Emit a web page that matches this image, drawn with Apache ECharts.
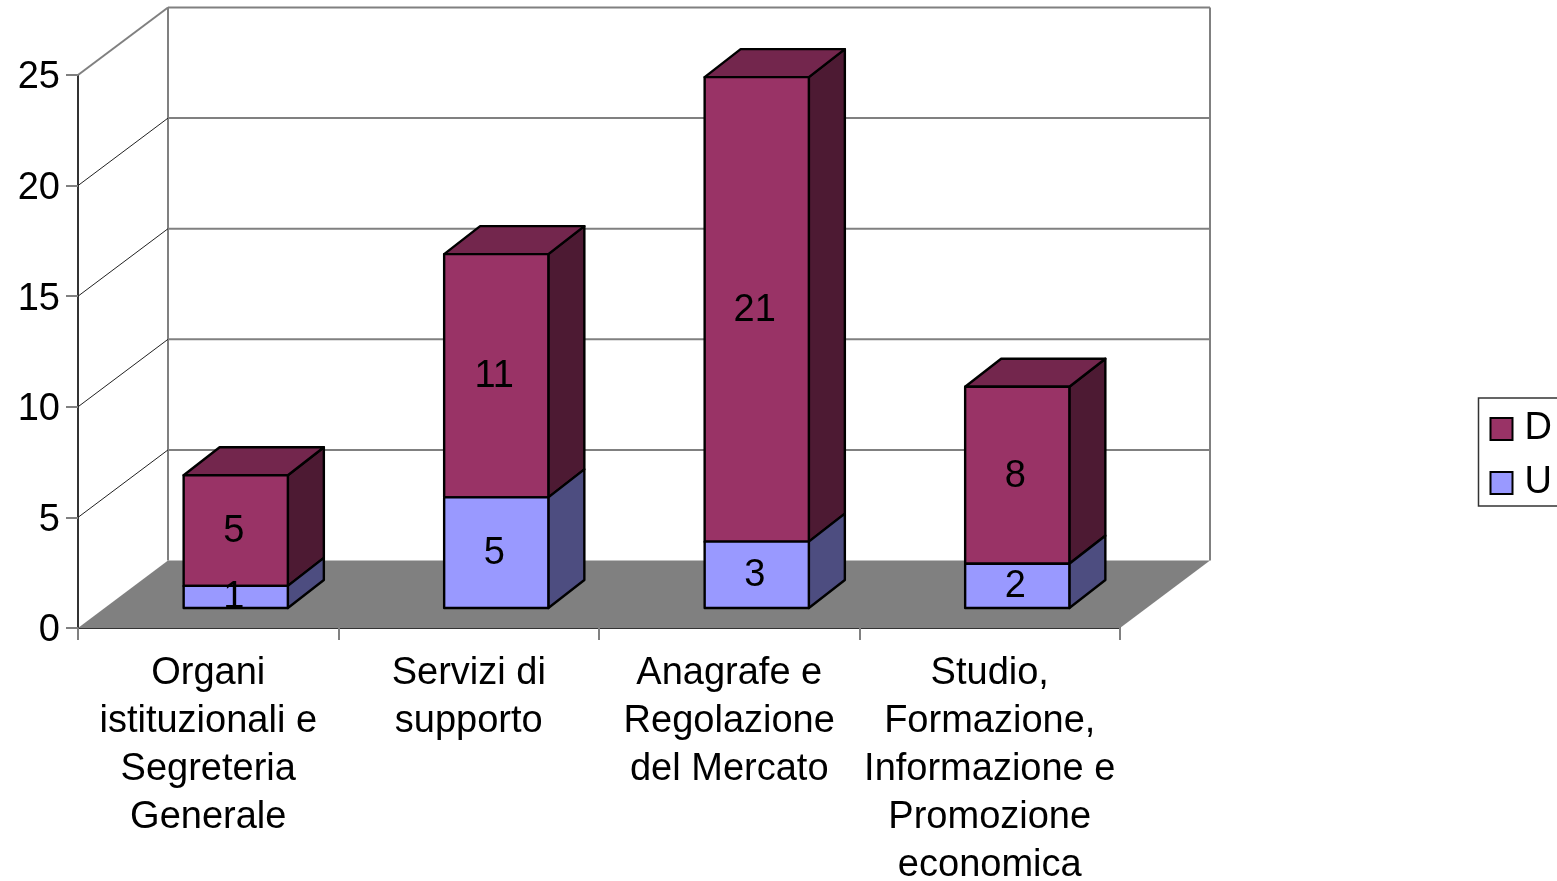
<!DOCTYPE html>
<html>
<head>
<meta charset="utf-8">
<style>html,body{margin:0;padding:0;background:#fff}#c{width:1557px;height:881px}</style>
<script src="https://cdn.jsdelivr.net/npm/echarts@6/dist/echarts.min.js"></script>
</head>
<body>
<div id="c"></div>
<script>
const categories = [
  'Organi\nistituzionali e\nSegreteria\nGenerale',
  'Servizi di\nsupporto',
  'Anagrafe e\nRegolazione\ndel Mercato',
  'Studio,\nFormazione,\nInformazione e\nPromozione\neconomica'
];
const valuesU = [1, 5, 3, 2];
const valuesD = [5, 11, 21, 8];
const yTicks = [0, 5, 10, 15, 20, 25];

const FONT = '"Liberation Sans", Arial, sans-serif';
const WALL = { dx: 90, dy: -67.5 };
const BAR = { dx: 27.5, dy: -20, depthX: 36, depthY: -28, ratio: 0.4 };

function wallItem(params, api) {
  const cs = params.coordSys;
  const tick = api.value(1);
  const left = cs.x, right = cs.x + cs.width;
  const y = api.coord([0, tick])[1];
  const by = y + WALL.dy;
  const bl = left + WALL.dx, br = right + WALL.dx;
  const gray = { stroke: '#808080', lineWidth: 2, fill: null };
  const children = [];
  if (tick === 0) {
    children.push({ type: 'polygon', shape: { points: [[left, y], [bl, by], [br, by], [right, y]] }, style: { fill: '#808080' } });
    children.push({ type: 'line', shape: { x1: bl, y1: by, x2: bl, y2: cs.y + WALL.dy }, style: gray });
    children.push({ type: 'line', shape: { x1: br, y1: by, x2: br, y2: cs.y + WALL.dy }, style: gray });
  } else {
    children.push({ type: 'line', shape: { x1: bl, y1: by, x2: br, y2: by }, style: gray });
    children.push({ type: 'line', shape: { x1: left, y1: y, x2: bl, y2: by },
      style: tick === yTicks[yTicks.length - 1] ? gray : { stroke: '#222', lineWidth: 1, fill: null } });
  }
  return { type: 'group', children };
}

function barItem(colors, cap) {
  return function (params, api) {
    const i = api.value(0);
    const band = api.size([1, 0])[0];
    const w = band * BAR.ratio;
    const c = api.coord([i, api.value(1)]);
    const t = api.coord([i, api.value(2)]);
    const x0 = c[0] + BAR.dx - w / 2, x1 = x0 + w;
    const yb = c[1] + BAR.dy, yt = t[1] + BAR.dy;
    const dx = BAR.depthX, dy = BAR.depthY;
    const edge = { stroke: '#000', lineWidth: 2.4, lineJoin: 'round' };
    const children = [
      { type: 'polygon', shape: { points: [[x1, yb], [x1 + dx, yb + dy], [x1 + dx, yt + dy], [x1, yt]] },
        style: Object.assign({ fill: colors.side }, edge) }
    ];
    if (cap) {
      children.push({ type: 'polygon', shape: { points: [[x0, yt], [x0 + dx, yt + dy], [x1 + dx, yt + dy], [x1, yt]] },
        style: Object.assign({ fill: colors.top }, edge) });
    }
    children.push({ type: 'rect', shape: { x: x0, y: yt, width: w, height: yb - yt },
      style: Object.assign({ fill: colors.face }, edge) });
    children.push({ type: 'text', z2: 10, style: {
      text: String(api.value(2) - api.value(1)),
      x: x0 + w / 2 - 2, y: (yb + yt) / 2 + 1,
      align: 'center', verticalAlign: 'middle',
      font: '38px ' + FONT, fill: '#000' } });
    return { type: 'group', children };
  };
}

const dataU = valuesU.map((v, i) => [i, 0, v]);
const dataD = valuesD.map((v, i) => [i, valuesU[i], valuesU[i] + v]);

const chart = echarts.init(document.getElementById('c'), null, { renderer: 'canvas' });
chart.setOption({
  animation: false,
  backgroundColor: '#fff',
  textStyle: { fontFamily: FONT },
  grid: { left: 78, top: 75, width: 1042, height: 553, outerBoundsMode: 'none', containLabel: false },
  legend: {
    orient: 'vertical', left: 1478.5, top: 398,
    data: ['D', 'U'],
    icon: 'rect',
    padding: [9, 60, 1, 11],
    itemWidth: 22, itemHeight: 22, itemGap: 10,
    borderColor: '#333', borderWidth: 1.5,
    selectedMode: false,
    itemStyle: { borderColor: '#000', borderWidth: 2 },
    textStyle: { fontSize: 38, lineHeight: 44, color: '#000', fontFamily: FONT, padding: [0, 0, 0, 7] }
  },
  xAxis: {
    type: 'category', data: categories,
    axisLine: { lineStyle: { color: '#333', width: 2 } },
    axisTick: { show: true, alignWithLabel: false, length: 12, lineStyle: { color: '#808080', width: 2 } },
    axisLabel: { interval: 0, fontSize: 38, color: '#000', lineHeight: 48, margin: 22, fontFamily: FONT },
    splitLine: { show: false }
  },
  yAxis: {
    type: 'value', min: 0, max: 25, interval: 5,
    axisLine: { show: true, lineStyle: { color: '#333', width: 2 } },
    axisTick: { show: true, length: 12, lineStyle: { color: '#808080', width: 2 } },
    axisLabel: {
      margin: 18, formatter: '{a|{value}}',
      rich: { a: { fontSize: 38, color: '#000', fontFamily: FONT, padding: [6, 0, 0, 0] } }
    },
    splitLine: { show: false }
  },
  series: [
    { type: 'custom', name: 'walls', z: 1, clip: false, silent: true,
      data: yTicks.map(t => [0, t]), encode: { x: 0, y: 1 }, renderItem: wallItem },
    { type: 'custom', name: 'D', z: 3, clip: false, data: dataD, encode: { x: 0, y: [1, 2] },
      itemStyle: { color: '#993366' },
      renderItem: barItem({ face: '#993366', side: '#4d1a33', top: '#73264d' }, true) },
    { type: 'custom', name: 'U', z: 4, clip: false, data: dataU, encode: { x: 0, y: [1, 2] },
      itemStyle: { color: '#9999ff' },
      renderItem: barItem({ face: '#9999ff', side: '#4d4d80', top: '#7373bf' }, false) }
  ]
});
</script>
</body>
</html>
